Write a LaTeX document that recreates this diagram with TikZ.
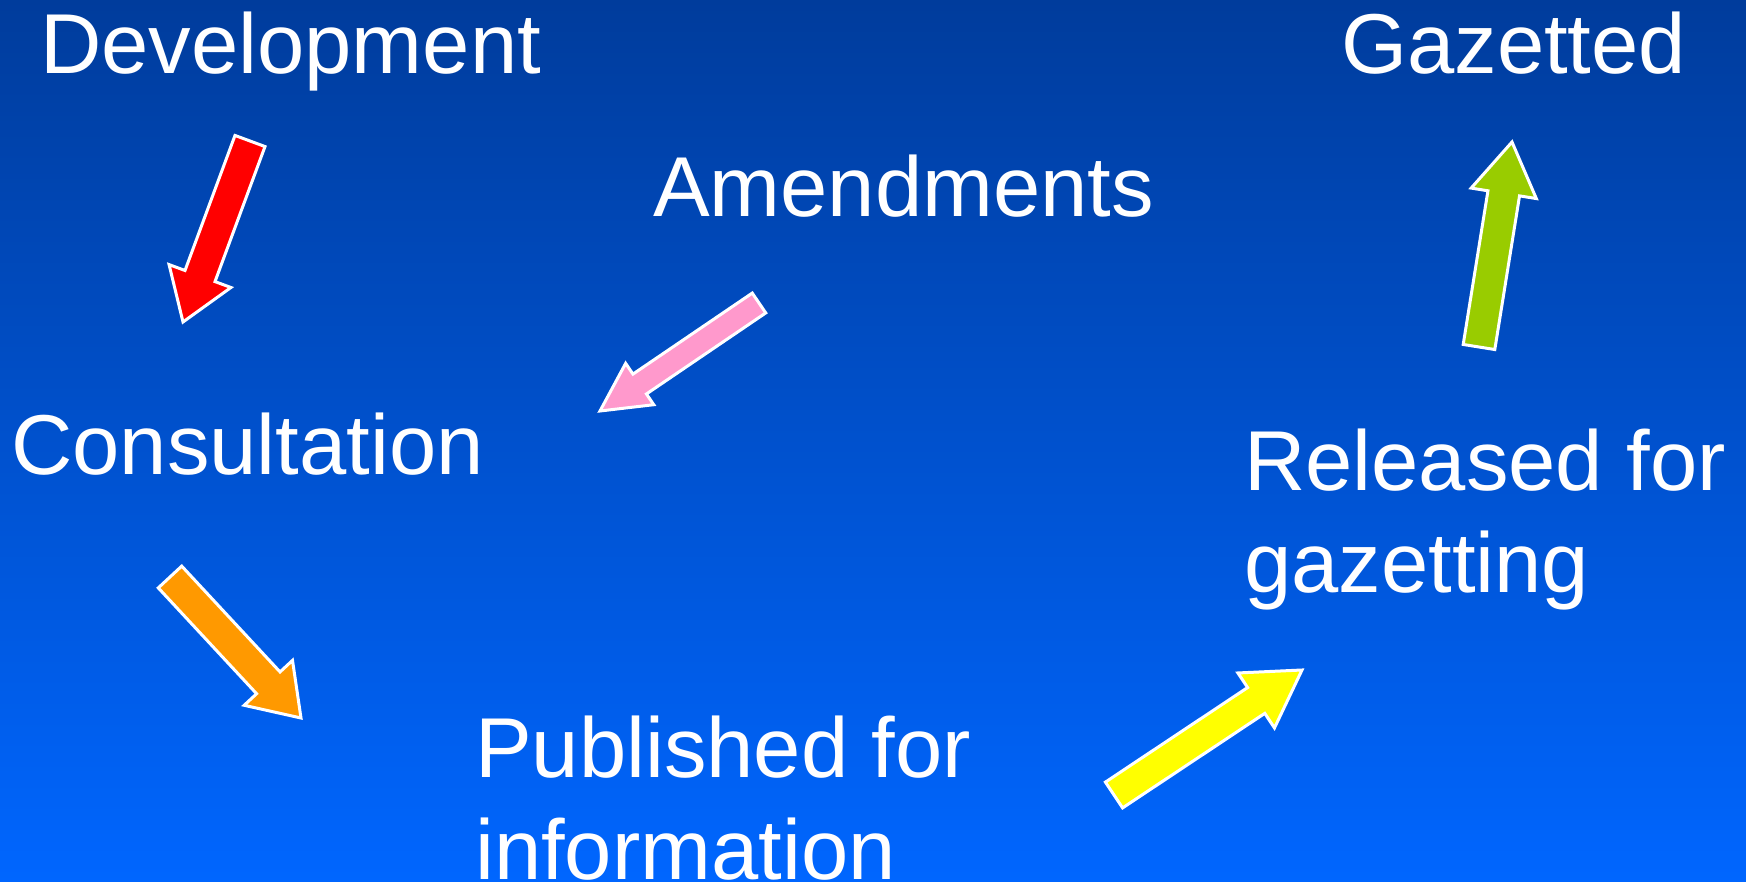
\documentclass[tikz,border=0pt]{standalone}
\usepackage{fontspec}
\setmainfont{Liberation Sans}
\usetikzlibrary{calc}

\definecolor{bgtop}{HTML}{003C9C}
\definecolor{bgmid}{HTML}{0057D6}
\definecolor{bgbottom}{HTML}{0066FF}
\definecolor{arrowred}{HTML}{FF0000}
\definecolor{arrowpink}{HTML}{FF99CC}
\definecolor{arroworange}{HTML}{FF9900}
\definecolor{arrowyellow}{HTML}{FFFF00}
\definecolor{arrowgreen}{HTML}{99CC00}

% block arrow: from, to, fill, shaft half width, head half width, head length
\newcommand{\blockarrow}[6]{%
	\coordinate (neck) at ($(#2)!#6!(#1)$);
	\draw [bigarrow, fill=#3] ($(#1)!#4!90:(#2)$) -- ($(neck)!#4!90:(#2)$) -- ($(neck)!#5!90:(#2)$) -- (#2) -- ($(neck)!#5!-90:(#2)$) -- ($(neck)!#4!-90:(#2)$) -- ($(#1)!#4!-90:(#2)$) -- cycle;}

\begin{document}
\begin{tikzpicture}[x=1pt, y=-1pt,
	main/.style={anchor=base west, inner sep=0pt, text=white, align=left, font=\fontsize{85}{102}\selectfont},
	bigarrow/.style={draw=white, line width=3pt, line join=miter}
	]

	\useasboundingbox (0,0) rectangle (1746,882);
	\shade [top color=bgtop, middle color=bgmid, bottom color=bgbottom] (0,0) rectangle (1746,882);

	\node (development) [main] at (40,74) {Development};
	\node (gazetted) [main] at (1341,74) {Gazetted};
	\node (amendments) [main] at (653,217) {Amendments};
	\node (consultation) [main] at (11,474) {Consultation};
	% base of a two-line node is its last line
	\node (released) [main] at (1244,592) {Released for\\gazetting};
	\node (published) [main] at (475,879) {Published for\\information};

	\coordinate (devout) at (250,141);
	\coordinate (consultin) at (183,322);
	\coordinate (amendout) at (759,303);
	\coordinate (amendin) at (600,411);
	\coordinate (consultout) at (170,577);
	\coordinate (publishin) at (301,718);
	\coordinate (publishout) at (1114,795);
	\coordinate (releasein) at (1302,670);
	\coordinate (releaseout) at (1479,347);
	\coordinate (gazettein) at (1512,142);

	\blockarrow{devout}{consultin}{arrowred}{16pt}{33pt}{49pt}
	\blockarrow{amendout}{amendin}{arrowpink}{12pt}{25pt}{48pt}
	\blockarrow{consultout}{publishin}{arroworange}{16pt}{33pt}{48pt}
	\blockarrow{publishout}{releasein}{arrowyellow}{15.5pt}{33pt}{55pt}
	\blockarrow{releaseout}{gazettein}{arrowgreen}{16pt}{33pt}{52pt}

\end{tikzpicture}
\end{document}
